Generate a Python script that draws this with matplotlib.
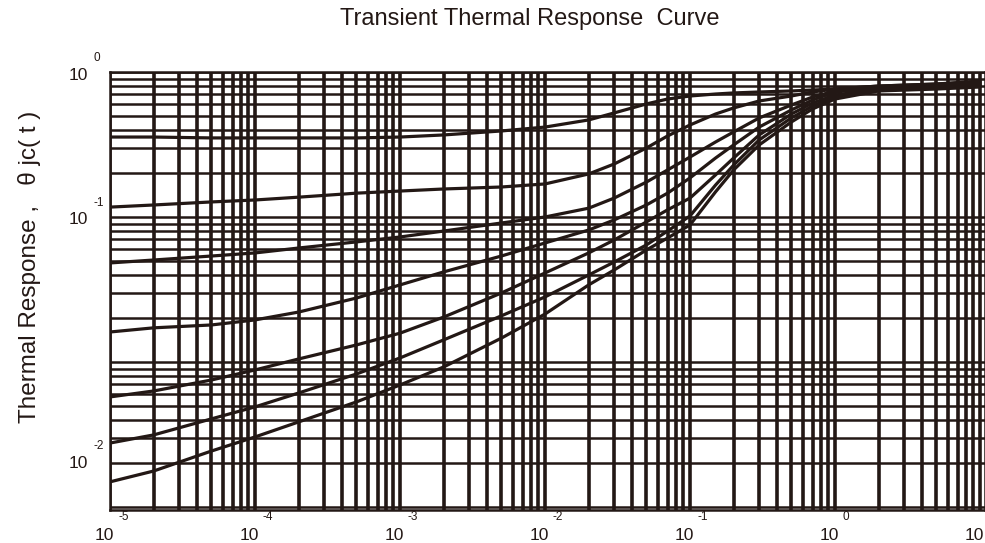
import matplotlib
matplotlib.use("Agg")
import matplotlib.pyplot as plt
from matplotlib.ticker import LogLocator

plt.rcParams["font.family"] = ["Liberation Sans", "DejaVu Sans"]

INK = "#231815"

# pulse width t (s), shared by all curves
t = [1e-5, 2e-5, 5e-5, 1e-4, 2e-4, 5e-4, 1e-3, 2e-3, 5e-3, 1e-2,
     2e-2, 3e-2, 5e-2, 7e-2, 0.1, 0.15, 0.2, 0.3, 0.5, 0.7, 1, 2, 5, 10]

# thermal response, top curve to bottom curve
curve_1 = [0.356, 0.356, 0.351, 0.351, 0.351, 0.351, 0.356, 0.368, 0.392, 0.417,
           0.467, 0.522, 0.602, 0.651, 0.683, 0.705, 0.717, 0.728, 0.740, 0.751,
           0.763, 0.800, 0.826, 0.853]
curve_2 = [0.117, 0.121, 0.127, 0.131, 0.137, 0.146, 0.151, 0.156, 0.161, 0.169,
           0.198, 0.232, 0.299, 0.362, 0.431, 0.513, 0.565, 0.631, 0.683, 0.728,
           0.763, 0.800, 0.826, 0.867]
curve_3 = [0.0482, 0.0505, 0.0538, 0.0565, 0.0611, 0.0673, 0.0728, 0.0800, 0.0909, 0.100,
           0.115, 0.135, 0.174, 0.211, 0.259, 0.329, 0.386, 0.482, 0.592, 0.672,
           0.740, 0.788, 0.813, 0.839]
curve_4 = [0.0161, 0.0172, 0.0180, 0.0195, 0.0221, 0.0276, 0.0340, 0.0418, 0.0538, 0.0662,
           0.0813, 0.0954, 0.121, 0.146, 0.186, 0.255, 0.314, 0.417, 0.547, 0.641,
           0.728, 0.776, 0.800, 0.826]
curve_5 = [0.00574, 0.00631, 0.00751, 0.00881, 0.01049, 0.0131, 0.0158, 0.0204, 0.0299, 0.0411,
           0.0565, 0.0694, 0.0924, 0.112, 0.135, 0.195, 0.255, 0.368, 0.513, 0.611,
           0.694, 0.763, 0.788, 0.813]
curve_6 = [0.00276, 0.00314, 0.00405, 0.00490, 0.00611, 0.00826, 0.01066, 0.0142, 0.0208, 0.0281,
           0.0398, 0.0489, 0.0641, 0.0800, 0.1016, 0.166, 0.228, 0.340, 0.482, 0.583,
           0.672, 0.751, 0.776, 0.800]
curve_7 = [0.00149, 0.00177, 0.00243, 0.00304, 0.00386, 0.00530, 0.00694, 0.00924, 0.0146, 0.0214,
           0.0340, 0.0431, 0.0592, 0.0716, 0.0881, 0.149, 0.211, 0.314, 0.452, 0.556,
           0.651, 0.740, 0.763, 0.788]
curves = [curve_1, curve_2, curve_3, curve_4, curve_5, curve_6, curve_7]

# tick labels as printed on the chart
x_decades = [1e-5, 1e-4, 1e-3, 1e-2, 1e-1, 1, 10]
x_exponents = ["-5", "-4", "-3", "-2", "-1", "0", "1"]
# the original sheet prints its "10^-2" label low, near 0.0021
y_label_values = [1, 0.1, 0.0021]
y_exponents = ["0", "-1", "-2"]

fig = plt.figure(figsize=(9.85, 5.43), dpi=100)
ax = fig.add_axes([110 / 985, 33 / 543, 875 / 985, 438 / 543])
ax.set_xscale("log")
ax.set_yscale("log")
ax.set_xlim(1e-5, 10.83)
ax.set_ylim(9.53e-4, 1)

# heavy log grid
for axis in (ax.xaxis, ax.yaxis):
    axis.set_major_locator(LogLocator(base=10, numticks=20))
    axis.set_minor_locator(LogLocator(base=10, subs=range(2, 10), numticks=20))
ax.grid(True, which="both", axis="x", color=INK, linewidth=2.6)
ax.grid(True, which="both", axis="y", color=INK, linewidth=1.8)
ax.set_axisbelow(True)
ax.tick_params(which="both", length=0, labelbottom=False, labelleft=False)
for s in ax.spines.values():
    s.set_color(INK)
    s.set_linewidth(1.8)

for c in curves:
    ax.plot(t, c, color=INK, linewidth=2.3, solid_capstyle="round", solid_joinstyle="round")

# "10" with a detached exponent, like the source sheet
for v, e in zip(x_decades, x_exponents):
    ax.annotate("10", xy=(v, 0), xycoords=("data", "axes fraction"),
                xytext=(-6, -25), textcoords="offset pixels",
                ha="center", va="center", fontsize=12.5, color=INK, annotation_clip=False)
    ax.annotate(e, xy=(v, 0), xycoords=("data", "axes fraction"),
                xytext=(8, -7), textcoords="offset pixels",
                ha="left", va="center", fontsize=8.5, color=INK, annotation_clip=False)
for v, e in zip(y_label_values, y_exponents):
    ax.annotate("10", xy=(0, v), xycoords=("axes fraction", "data"),
                xytext=(-22, -3), textcoords="offset pixels",
                ha="right", va="center", fontsize=12.5, color=INK, annotation_clip=False)
    ax.annotate(e, xy=(0, v), xycoords=("axes fraction", "data"),
                xytext=(-17, 14), textcoords="offset pixels",
                ha="left", va="center", fontsize=8.5, color=INK, annotation_clip=False)

fig.text(530 / 985, 1 - 19 / 543, "Transient Thermal Response  Curve",
         ha="center", va="center", fontsize=17, color=INK)
fig.text(30 / 985, 1 - 267 / 543, "Thermal Response ,   \u03b8 jc( t )",
         ha="center", va="center", rotation=90, fontsize=17.5, color=INK)

fig.savefig("out.png", dpi=100)
